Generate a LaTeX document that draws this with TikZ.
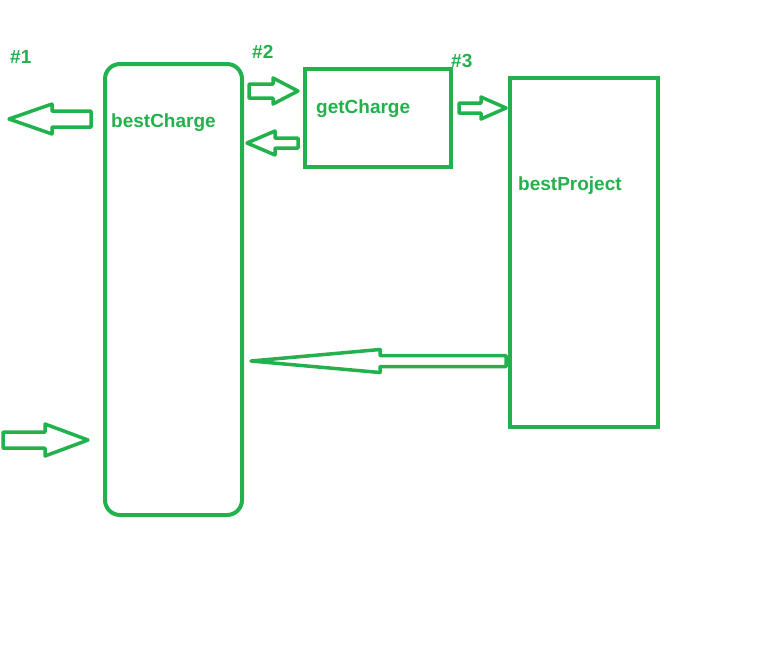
\documentclass[tikz,border=0pt]{standalone}
\usepackage{fontspec}
\setmainfont{Liberation Sans}
\usetikzlibrary{calc}
\definecolor{paintgreen}{RGB}{34,177,76}
\tikzset{
  box/.style={draw=paintgreen,line width=4pt,inner sep=0pt},
  tag/.style={text=paintgreen,font=\bfseries\fontsize{19}{19}\selectfont,inner sep=0pt,anchor=base west},
  fat/.style={draw=paintgreen,line width=3.5pt,line join=round},
}
% hollow block arrow: start, tip, shaft half width, head half width, head length
\newcommand{\fatarrow}[5]{%
  \coordinate (hb) at ($(#2)!#5!(#1)$);
  \draw[fat] ($(#1)!#3!90:(#2)$) -- ($(hb)!#3!90:(#2)$) -- ($(hb)!#4!90:(#2)$) -- (#2)
    -- ($(hb)!#4!-90:(#2)$) -- ($(hb)!#3!-90:(#2)$) -- ($(#1)!#3!-90:(#2)$) -- cycle;
}
\begin{document}
\begin{tikzpicture}[x=1pt,y=-1pt]
    \useasboundingbox (0,0) rectangle (766,649);

    \node[box,rounded corners=15pt,minimum width=137pt,minimum height=451pt] (bc) at (173.5,289.5) {};
    \node[box,minimum width=146pt,minimum height=98pt] (gc) at (378,118) {};
    \node[box,minimum width=148pt,minimum height=349pt] (bp) at (584,252.5) {};

    \node[tag] (bcText) at (111,127) {bestCharge};
    \node[tag] (gcText) at (316,113) {getCharge};
    \node[tag] (bpText) at (518,190) {bestProject};

    \node[tag] (step1) at (10,63) {\#1};
    \node[tag] (step2) at (252,58) {\#2};
    \node[tag] (step3) at (451,67) {\#3};

    \coordinate (out) at (9,119);
    \coordinate (in) at (3,440);

    \coordinate (a1s) at ($(bc.west |- 0,119)+(-12,0)$);
    \coordinate (a2s) at ($(bc.east |- 0,91)+(5,0)$);
    \coordinate (a2t) at ($(gc.west |- 0,91)+(-5,0)$);
    \coordinate (a3s) at ($(gc.west |- 0,143)+(-5,0)$);
    \coordinate (a3t) at ($(bc.east |- 0,143)+(3,0)$);
    \coordinate (a4s) at ($(gc.east |- 0,108)+(6,0)$);
    \coordinate (a4t) at ($(bp.west |- 0,108)+(-2,0)$);
    \coordinate (a5s) at ($(bp.west |- 0,361)+(-2,0)$);
    \coordinate (a5t) at ($(bc.east |- 0,361)+(7,0)$);
    \coordinate (a6t) at ($(bc.west |- 0,440)+(-15,0)$);

    \fatarrow{a1s}{out}{8pt}{15pt}{43pt}
    \fatarrow{a2s}{a2t}{7pt}{13pt}{25pt}
    \fatarrow{a3s}{a3t}{5pt}{12pt}{28pt}
    \fatarrow{a4s}{a4t}{5pt}{11pt}{25pt}
    \fatarrow{a5s}{a5t}{5.5pt}{11.5pt}{129pt}
    \fatarrow{in}{a6t}{8pt}{16pt}{43pt}
\end{tikzpicture}
\end{document}
